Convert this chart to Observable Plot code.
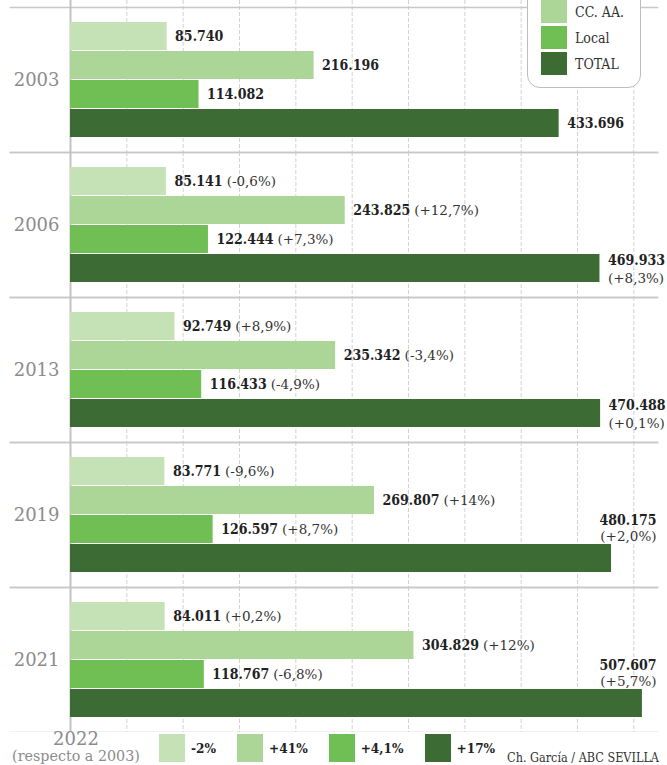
<!DOCTYPE html>
<html>
<head>
<meta charset="utf-8">
<script src="https://cdn.jsdelivr.net/npm/d3@7"></script>
<script src="https://cdn.jsdelivr.net/npm/@observablehq/plot@0.6"></script>
<style>
  body { margin: 0; background: #fff; }
  #wrap { position: relative; width: 667px; height: 765px; overflow: hidden;
          font-family: "DejaVu Serif Condensed", "DejaVu Serif", serif; }
  #chart svg { display: block; }
  #legend { position: absolute; left: 527px; top: -42px; width: 114px; height: 130px;
            border: 1px solid #bdbdbd; border-radius: 13px; background: #fff; box-sizing: border-box; }
  .li { position: absolute; left: 13px; height: 23px; display: flex; align-items: center;
        font-size: 14px; color: #333; white-space: nowrap; }
  .li .sw { width: 26px; height: 23px; margin-right: 8px; }
  #bottom { position: absolute; left: 0; top: 731px; width: 667px; height: 34px; }
  #yr { position: absolute; left: 0; top: 0; width: 152px; color: #8c8c8c;
        font-family: "DejaVu Serif", serif; }
  #yr .a { position: absolute; left: 0; top: 0px; width: 152px; text-align: center;
           font-size: 18px; line-height: 15px; }
  #yr .b { position: absolute; left: 0; top: 19px; width: 152px; text-align: center;
           font-size: 14.3px; line-height: 13px; white-space: nowrap; }
  #chg { position: absolute; left: 159px; top: 3px; display: flex; align-items: center; }
  .ci { display: flex; align-items: center; margin-right: 21px; font-weight: bold;
        font-size: 13.5px; color: #222; }
  .ci .sw { width: 26px; height: 28px; margin-right: 6px; }
  #credit { position: absolute; right: 8px; top: 21px; font-size: 12.5px; line-height: 12px;
            color: #333; white-space: nowrap; }
</style>
</head>
<body>
<div id="wrap">
  <div id="chart"></div>
  <div id="legend"></div>
  <div id="bottom">
    <div id="yr"></div>
    <div id="chg"></div>
    <div id="credit"></div>
  </div>
</div>
<script>
// ---------- data ----------
const years = ["2003", "2006", "2013", "2019", "2021"];
const series = ["Estado", "CC. AA.", "Local", "TOTAL"];
const colors = ["#c5e2b7", "#abd697", "#70bf55", "#3c6b34"];

const estado = [85740, 85141, 92749, 83771, 84011];
const ccaa   = [216196, 243825, 235342, 269807, 304829];
const local  = [114082, 122444, 116433, 126597, 118767];
const total  = [433696, 469933, 470488, 480175, 507607];

const estadoPct = ["", "-0,6%", "+8,9%", "-9,6%", "+0,2%"];
const ccaaPct   = ["", "+12,7%", "-3,4%", "+14%", "+12%"];
const localPct  = ["", "+7,3%", "-4,9%", "+8,7%", "-6,8%"];
const totalPct  = ["", "+8,3%", "+0,1%", "+2,0%", "+5,7%"];

const change2022 = ["-2%", "+41%", "+4,1%", "+17%"];
const changeTitle = ["2022", "(respecto a 2003)"];
const credit = "Ch. García / ABC SEVILLA";
const xMax = 521000;

// ---------- build table ----------
const valueSets = [estado, ccaa, local, total];
const pctSets = [estadoPct, ccaaPct, localPct, totalPct];
const rows = [];
years.forEach((yr, i) => series.forEach((s, j) =>
  rows.push({year: yr, series: s, value: valueSets[j][i], pct: pctSets[j][i]})));

const fmt = d3.formatLocale({decimal: ",", thousands: ".", grouping: [3], currency: ["", ""]}).format(",d");
const lab1 = d => fmt(d.value) + (d.pct ? " (" + d.pct + ")" : "");
const lab2 = d => fmt(d.value) + "\n(" + d.pct + ")";

const mainLabels = rows.filter(d => d.series !== "TOTAL" || !d.pct);
const sideTotals = rows.filter(d => d.series === "TOTAL" && d.pct && d.value < 475000);
const aboveTotals = rows.filter(d => d.series === "TOTAL" && d.pct && d.value >= 475000);

const ticks = d3.ticks(0, xMax, 10).filter(t => t > 0 && t < xMax);
const gridRows = years.flatMap(y => ticks.map(t => ({year: y, x: t})));

const boldFont = "DejaVu Serif Condensed, DejaVu Serif, serif";
const regFont = "DejaVu Serif, serif";

const plot = Plot.plot({
  width: 667,
  height: 732,
  marginTop: 7,
  marginLeft: 70,
  marginRight: 10,
  marginBottom: 0,
  style: {fontFamily: boldFont, background: "transparent"},
  x: {domain: [0, xMax], axis: null},
  y: {domain: series, axis: null, paddingInner: 0.035, paddingOuter: 0.5},
  fy: {domain: years, axis: null, padding: 0},
  color: {domain: series, range: colors},
  marks: [
    Plot.ruleX(gridRows.filter(d => d.year === years[0]), {x: "x", fy: "year", stroke: "#d2d2d2", strokeDasharray: "4,2", insetTop: -7}),
    Plot.ruleX(gridRows.filter(d => d.year !== years[0]), {x: "x", fy: "year", stroke: "#d2d2d2", strokeDasharray: "4,2"}),
    Plot.frame({anchor: "top", insetLeft: -60, stroke: "#c8c8c8", strokeWidth: 1.6}),
    Plot.frame({anchor: "bottom", insetLeft: -60, stroke: "#c8c8c8", strokeWidth: 1.6}),
    Plot.ruleX([{year: years[0]}], {x: () => 0, fy: "year", stroke: "#c2c2c2", strokeWidth: 2, insetTop: -7}),
    Plot.ruleX(years.slice(1).map(y => ({year: y})), {x: () => 0, fy: "year", stroke: "#c2c2c2", strokeWidth: 2}),
    Plot.barX(rows, {fy: "year", y: "series", x: "value", fill: "series"}),
    Plot.text(years, {fy: d => d, text: d => d, frameAnchor: "left", dx: -11, textAnchor: "end",
      fontSize: 18, fill: "#8c8c8c", fontFamily: regFont}),
    Plot.text(mainLabels, {fy: "year", y: "series", x: "value", text: lab1, dx: 8, textAnchor: "start",
      fontSize: 14, fill: "#222", className: "lbl"}),
    Plot.text(sideTotals, {fy: "year", y: "series", x: "value", text: lab2, dx: 8, textAnchor: "start",
      lineHeight: 1.3, fontSize: 14, fill: "#222", className: "lbl"}),
    Plot.text(aboveTotals, {fy: "year", y: "series", text: lab2, frameAnchor: "right", textAnchor: "end",
      lineAnchor: "bottom", dy: -17, dx: -1, lineHeight: 1.17, fontSize: 14, fill: "#222", className: "lbl"})
  ]
});
document.getElementById("chart").appendChild(plot);

// bold value, regular percentage
d3.select(plot).selectAll("g.lbl text").each(function () {
  const t = d3.select(this);
  const spans = t.selectAll("tspan");
  if (!spans.empty()) {
    spans.each(function (d, i) {
      const sp = d3.select(this);
      if (i === 0) sp.attr("font-weight", "bold").attr("fill", "#222");
      else sp.attr("font-weight", "normal").attr("fill", "#333")
             .attr("font-family", regFont).attr("font-size", 13.5);
    });
  } else {
    const s = this.textContent;
    const k = s.indexOf(" ");
    t.text(null);
    t.append("tspan").attr("font-weight", "bold").text(k < 0 ? s : s.slice(0, k));
    if (k >= 0) t.append("tspan").attr("dx", 4).attr("fill", "#333")
      .attr("font-family", regFont).attr("font-size", 13.5).text(s.slice(k + 1));
  }
});

// top-right legend (first entry lies above the visible area, as in the original)
const legend = d3.select("#legend");
series.forEach((s, i) => {
  if (i === 0) return;
  const it = legend.append("div").attr("class", "li").style("top", (15 + i * 26) + "px");
  it.append("div").attr("class", "sw").style("background", colors[i]);
  it.append("span").text(s);
});

// bottom row
const yr = d3.select("#yr");
yr.append("div").attr("class", "a").text(changeTitle[0]);
yr.append("div").attr("class", "b").text(changeTitle[1]);
const chg = d3.select("#chg");
change2022.forEach((c, i) => {
  const it = chg.append("div").attr("class", "ci");
  it.append("div").attr("class", "sw").style("background", colors[i]);
  it.append("span").text(c);
});
d3.select("#credit").text(credit);
</script>
</body>
</html>
